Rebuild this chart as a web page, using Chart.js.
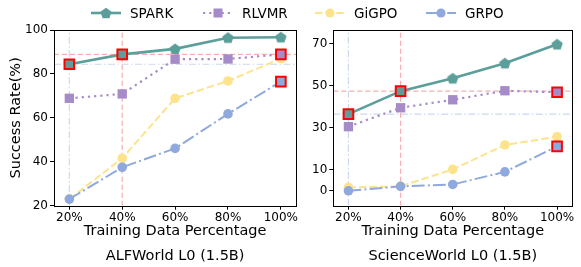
<!DOCTYPE html>
<html>
<head>
<meta charset="utf-8">
<script src="https://cdn.jsdelivr.net/npm/chart.js@4/dist/chart.umd.min.js"></script>
<style>
  html, body { margin: 0; padding: 0; background: #fff; }
  body { width: 581px; height: 267px; position: relative; overflow: hidden; font-family: 'DejaVu Sans', sans-serif; }
  canvas { position: absolute; top: 0; }
  #c1 { left: 0; }
  #c2 { left: 290px; }
  .leg { position: absolute; top: 4px; height: 18px; display: flex; align-items: center; font-size: 13.5px; color: #000; white-space: nowrap; }
  .leg svg { margin-right: 9px; }
</style>
</head>
<body>
<canvas id="c1" width="305" height="267"></canvas>
<canvas id="c2" width="291" height="267"></canvas>
<div id="legend"></div>
<script>
// ---------- data ----------
const categories = ['20%', '40%', '60%', '80%', '100%'];
const seriesNames = ['SPARK', 'RLVMR', 'GiGPO', 'GRPO'];

// ALFWorld L0 (1.5B)
const alfSPARK = [84.4, 88.9, 91.4, 96.5, 96.7];
const alfRLVMR = [68.9, 70.9, 86.7, 86.8, 88.9];
const alfGiGPO = [23.0, 41.6, 68.9, 76.8, 87.0];
const alfGRPO  = [23.0, 37.5, 46.1, 61.8, 76.5];
const alfYTicks = [20, 40, 60, 80, 100];

// ScienceWorld L0 (1.5B)
const sciSPARK = [36.5, 47.4, 53.5, 60.7, 69.7];
const sciRLVMR = [30.5, 39.5, 43.3, 47.6, 46.9];
const sciGiGPO = [1.6, 2.1, 10.2, 21.8, 25.7];
const sciGRPO  = [0.0, 2.1, 3.0, 9.0, 21.1];
const sciYTicks = [0, 10, 30, 50, 70];

// highlighted points: [series index, category index]
const highlights = [[0, 0], [0, 1], [1, 4], [3, 4]];

// ---------- styles ----------
const colors = ['#5B9E9A', '#A58BC7', '#FCE38C', '#8FA9DE'];
const FONT = 'DejaVu Sans';
Chart.defaults.font.family = FONT;
Chart.defaults.color = '#000';

function pentagon(color, r) {
  const c = document.createElement('canvas');
  const s = Math.ceil(r * 2 + 2);
  c.width = s; c.height = s;
  const g = c.getContext('2d');
  g.beginPath();
  for (let i = 0; i < 5; i++) {
    const a = -Math.PI / 2 + i * 2 * Math.PI / 5;
    const px = s / 2 + r * Math.cos(a), py = s / 2 + r * Math.sin(a) + 0.5;
    if (i === 0) g.moveTo(px, py); else g.lineTo(px, py);
  }
  g.closePath();
  g.fillStyle = color;
  g.fill();
  return c;
}
const pentImg = pentagon(colors[0], 6.0);

const lineStyles = [
  { borderWidth: 2.6, borderDash: [], pointStyle: pentImg, pointRadius: 6 },
  { borderWidth: 2.2, borderDash: [2.2, 4], pointStyle: 'rect', pointRadius: 6.6 },
  { borderWidth: 2.0, borderDash: [7.4, 3.2], pointStyle: 'circle', pointRadius: 4.8 },
  { borderWidth: 2.0, borderDash: [12.8, 3.2, 2, 3.2], pointStyle: 'circle', pointRadius: 4.8 },
];

const XMIN = -0.29, XMAX = 4.29;

const framePlugin = {
  id: 'frame',
  afterDraw(chart) {
    const { ctx, chartArea: a } = chart;
    ctx.save();
    ctx.strokeStyle = '#000';
    ctx.lineWidth = 1;
    ctx.strokeRect(Math.round(a.left) + 0.5, Math.round(a.top) + 0.5,
                   Math.round(a.right - a.left), Math.round(a.bottom - a.top));
    ctx.restore();
  }
};

function makeChart(canvasId, series, yMin, yMax, yTicks, yTitle, plotTitle, yAxisWidth, padRight) {
  const datasets = [];
  // reference lines (behind)
  const refRed = 'rgba(240,120,120,0.6)';
  const refBlue = 'rgba(170,190,232,0.6)';
  datasets.push({ data: [{x: XMIN, y: series[0][1]}, {x: XMAX, y: series[0][1]}],
    borderColor: refRed, borderWidth: 1.2, borderDash: [5, 3], pointRadius: 0, order: 20 });
  datasets.push({ data: [{x: XMIN, y: series[0][0]}, {x: XMAX, y: series[0][0]}],
    borderColor: refBlue, borderWidth: 1.2, borderDash: [7, 2.5, 1.5, 2.5], pointRadius: 0, order: 20 });
  datasets.push({ data: [{x: 1, y: yMin}, {x: 1, y: yMax}],
    borderColor: refRed, borderWidth: 1.2, borderDash: [5, 3], pointRadius: 0, order: 20 });
  datasets.push({ data: [{x: 0, y: yMin}, {x: 0, y: yMax}],
    borderColor: refBlue, borderWidth: 1.2, borderDash: [7, 2.5, 1.5, 2.5], pointRadius: 0, order: 20 });

  series.forEach((vals, si) => {
    const st = lineStyles[si];
    datasets.push({
      label: seriesNames[si],
      data: vals.map((v, i) => ({ x: i, y: v })),
      borderColor: colors[si],
      backgroundColor: colors[si],
      pointBackgroundColor: colors[si],
      pointBorderWidth: 0,
      pointBorderColor: colors[si],
      borderWidth: st.borderWidth,
      borderDash: st.borderDash,
      borderCapStyle: 'butt',
      pointStyle: st.pointStyle,
      pointRadius: st.pointRadius,
      tension: 0,
      clip: false,
      order: 10 - si,
    });
  });

  datasets.push({
    data: highlights.map(([si, ci]) => ({ x: ci, y: series[si][ci] })),
    showLine: false,
    pointStyle: 'rect',
    pointRadius: 6.8,
    pointBorderWidth: 2,
    pointBorderColor: '#FF0000',
    pointBackgroundColor: highlights.map(([si]) => colors[si]),
    clip: false,
    order: 0,
  });

  return new Chart(document.getElementById(canvasId), {
    type: 'line',
    data: { datasets },
    plugins: [framePlugin],
    options: {
      responsive: false,
      animation: false,
      events: [],
      layout: { padding: { top: 30, right: padRight, bottom: 2.3, left: 0 } },
      plugins: {
        legend: { display: false },
        tooltip: { enabled: false },
        title: {
          display: true, position: 'bottom', text: plotTitle, fullSize: false,
          font: { size: 14.5, weight: 'normal', family: FONT, lineHeight: 1.2 },
          padding: { top: 7.1, bottom: 0 }, color: '#000'
        }
      },
      scales: {
        x: {
          type: 'linear', min: XMIN, max: XMAX,
          afterBuildTicks: s => { s.ticks = categories.map((_, i) => ({ value: i })); },
          afterFit: s => { s.height = 34.5; },
          ticks: { callback: v => categories[v], font: { size: 12 }, padding: 1, maxRotation: 0, autoSkip: false, color: '#000' },
          grid: { drawOnChartArea: false, drawTicks: true, tickLength: 4, tickColor: '#000', tickWidth: 1 },
          border: { display: false },
          title: { display: true, text: 'Training Data Percentage', font: { size: 14.5, family: FONT, lineHeight: 1.2 }, padding: { top: 0, bottom: 0 }, color: '#000' }
        },
        y: {
          type: 'linear', min: yMin, max: yMax,
          afterBuildTicks: s => { s.ticks = yTicks.map(v => ({ value: v })); },
          afterFit: s => { s.width = yAxisWidth; },
          ticks: { font: { size: 12 }, padding: 2, color: '#000' },
          grid: { drawOnChartArea: false, drawTicks: true, tickLength: 4, tickColor: '#000', tickWidth: 1 },
          border: { display: false },
          title: { display: !!yTitle, text: yTitle, font: { size: 14.5, family: FONT, lineHeight: 1.2 }, padding: { top: 8, bottom: 0 }, color: '#000' }
        }
      }
    }
  });
}

makeChart('c1', [alfSPARK, alfRLVMR, alfGiGPO, alfGRPO], 20, 100, alfYTicks,
  'Success Rate(%)', 'ALFWorld L0 (1.5B)', 54, 5);
makeChart('c2', [sciSPARK, sciRLVMR, sciGiGPO, sciGRPO], -7.1, 76.5, sciYTicks,
  '', 'ScienceWorld L0 (1.5B)', 43.3, 3);

// ---------- legend (HTML) ----------
const legendLeft = [91, 203, 315, 426];
const legendDash = ['', '2.2 4', '7.4 3.2', '12.8 3.2 2 3.2'];
const legendEl = document.getElementById('legend');
seriesNames.forEach((name, si) => {
  const d = document.createElement('div');
  d.className = 'leg';
  d.style.left = legendLeft[si] + 'px';
  let marker;
  if (si === 0) {
    const pts = [];
    for (let i = 0; i < 5; i++) {
      const a = -Math.PI / 2 + i * 2 * Math.PI / 5;
      pts.push((15 + 5.8 * Math.cos(a)).toFixed(2) + ',' + (9.5 + 5.8 * Math.sin(a)).toFixed(2));
    }
    marker = `<polygon points="${pts.join(' ')}" fill="${colors[0]}"/>`;
  } else if (si === 1) {
    marker = `<rect x="10.5" y="4.5" width="9" height="9" fill="${colors[1]}"/>`;
  } else {
    marker = `<circle cx="15" cy="9" r="4.6" fill="${colors[si]}"/>`;
  }
  d.innerHTML = `<svg width="30" height="18"><line x1="0" y1="9" x2="30" y2="9" stroke="${colors[si]}" stroke-width="${lineStyles[si].borderWidth}" stroke-dasharray="${legendDash[si]}"/>${marker}</svg><span>${name}</span>`;
  legendEl.appendChild(d);
});
</script>
</body>
</html>
